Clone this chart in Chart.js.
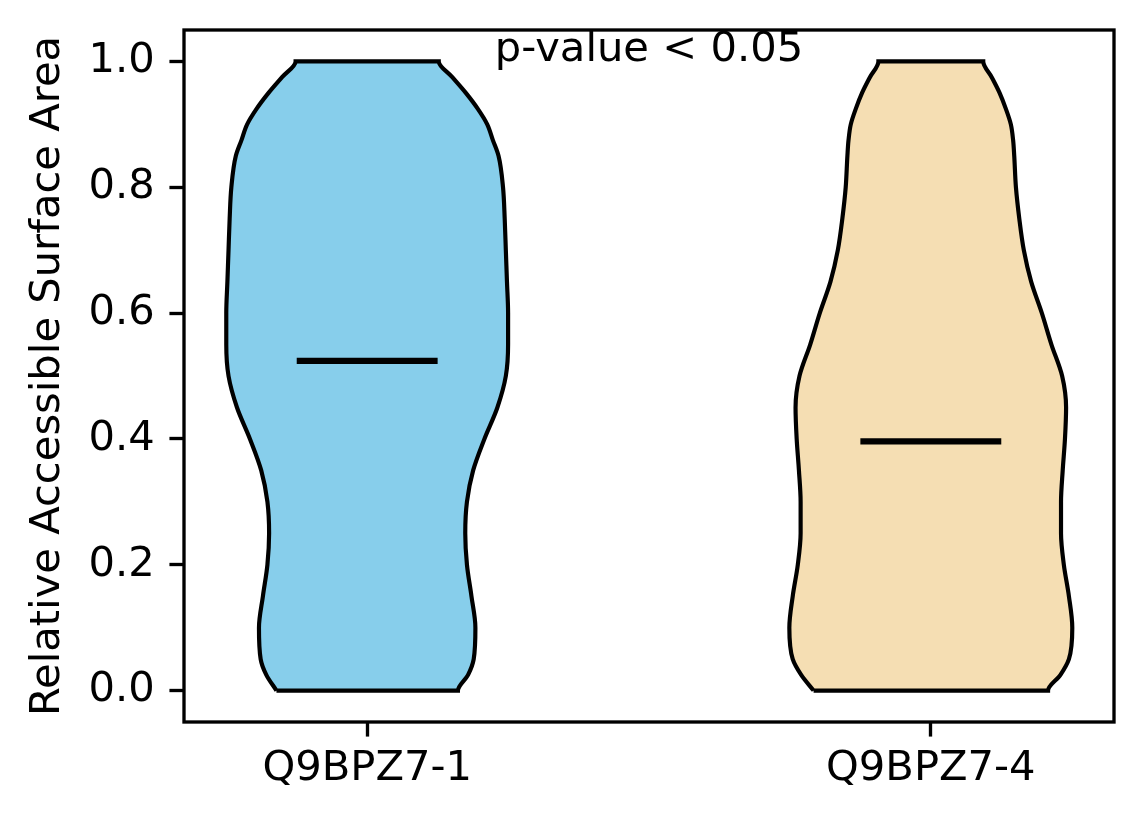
<!DOCTYPE html>
<html>
<head>
<meta charset="utf-8">
<script src="https://cdn.jsdelivr.net/npm/chart.js@4.4.1/dist/chart.umd.min.js"></script>
<style>
  body { margin: 0; background: #fff; }
  #wrap { width: 1144px; height: 824px; }
</style>
</head>
<body>
<div id="wrap"><canvas id="violinChart" width="1144" height="824"></canvas></div>
<script>
// categories and where they sit on the x axis
const categories = ['Q9BPZ7-1', 'Q9BPZ7-4'];
const positions = [1, 2];

// heights at which the violin outlines were read
const levels = [0, 0.025, 0.05, 0.1, 0.15, 0.2, 0.25, 0.3, 0.35, 0.4, 0.45, 0.5,
  0.55, 0.6, 0.65, 0.7, 0.75, 0.8, 0.85, 0.875, 0.9, 0.925, 0.95, 0.975, 1.0];

// half widths of each violin at those heights (x axis units)
const halfWidthQ1 = [0.161, 0.179, 0.189, 0.192, 0.185, 0.177, 0.174, 0.177, 0.188, 0.208, 0.231, 0.246,
  0.250, 0.250, 0.248, 0.246, 0.244, 0.241, 0.233, 0.223, 0.213, 0.196, 0.175, 0.151, 0.127];
const halfWidthQ4 = [0.208, 0.230, 0.245, 0.251, 0.245, 0.236, 0.231, 0.231, 0.234, 0.238, 0.240, 0.233,
  0.214, 0.197, 0.178, 0.165, 0.157, 0.151, 0.148, 0.146, 0.142, 0.133, 0.122, 0.108, 0.093];

const medians = [0.524, 0.396];
const yTicks = [0.0, 0.2, 0.4, 0.6, 0.8, 1.0];

const yLabel = 'Relative Accessible Surface Area';
const noteText = 'p-value < 0.05';
const noteX = 1.5;
const noteY = 1.0;

const fillColors = ['#87ceeb', '#f5deb3'];
const FONT = "'DejaVu Sans', 'Liberation Sans', sans-serif";
const FS = 41.67;

// closed outline: bottom left corner, up the right side, down the left side
const outline = (center, halfWidths) => {
  const pts = [{ x: center - halfWidths[0], y: levels[0] }];
  for (let i = 0; i < levels.length; i++) {
    pts.push({ x: center + halfWidths[i], y: levels[i] });
  }
  for (let i = levels.length - 1; i >= 0; i--) {
    pts.push({ x: center - halfWidths[i], y: levels[i] });
  }
  return pts;
};

const halfWidths = [halfWidthQ1, halfWidthQ4];

const datasets = [];
positions.forEach((pos, i) => {
  datasets.push({
    data: outline(pos, halfWidths[i]),
    backgroundColor: fillColors[i],
    borderColor: '#000',
    borderWidth: 4.17,
    borderJoinStyle: 'miter',
    fill: 'shape',
    cubicInterpolationMode: 'monotone',
    pointRadius: 0,
    order: 1
  });
});
positions.forEach((pos, i) => {
  datasets.push({
    data: [{ x: pos - 0.125, y: medians[i] }, { x: pos + 0.125, y: medians[i] }],
    borderColor: '#000',
    borderWidth: 6.25,
    borderCapStyle: 'butt',
    fill: false,
    tension: 0,
    pointRadius: 0,
    order: 0
  });
});

// frame round the plot and the p-value note
const framePlugin = {
  id: 'frame',
  afterDraw(chart) {
    const { ctx, chartArea: a, scales } = chart;
    ctx.save();
    ctx.strokeStyle = '#000';
    ctx.lineWidth = 3.33;
    ctx.strokeRect(a.left, a.top, a.right - a.left, a.bottom - a.top);
    ctx.fillStyle = '#000';
    ctx.font = FS + 'px ' + FONT;
    ctx.textAlign = 'center';
    ctx.textBaseline = 'alphabetic';
    ctx.fillText(noteText, scales.x.getPixelForValue(noteX), scales.y.getPixelForValue(noteY));
    ctx.restore();
  }
};

const ctx = document.getElementById('violinChart').getContext('2d');
new Chart(ctx, {
  type: 'line',
  data: { datasets: datasets },
  options: {
    responsive: false,
    animation: false,
    indexAxis: 'y',
    layout: { padding: { top: 30, right: 30, left: 0, bottom: 0 } },
    plugins: {
      legend: { display: false },
      tooltip: { enabled: false }
    },
    scales: {
      x: {
        type: 'linear',
        position: 'bottom',
        min: 0.675,
        max: 2.325,
        afterBuildTicks: (axis) => { axis.ticks = positions.map(v => ({ value: v })); },
        afterFit: (axis) => {
          axis.height = 102;
          axis.paddingLeft = 0;
          axis.paddingRight = 0;
        },
        ticks: {
          autoSkip: false,
          maxRotation: 0,
          padding: 8,
          color: '#000',
          font: { family: FONT, size: FS },
          callback: (v, i) => categories[i]
        },
        grid: {
          display: true,
          drawOnChartArea: false,
          drawTicks: true,
          tickLength: 14.58,
          tickWidth: 3.33,
          tickColor: '#000'
        },
        border: { display: false }
      },
      y: {
        type: 'linear',
        position: 'left',
        min: -0.05,
        max: 1.05,
        afterBuildTicks: (axis) => { axis.ticks = yTicks.map(v => ({ value: v })); },
        afterFit: (axis) => {
          axis.width = 184;
          axis.paddingTop = 0;
          axis.paddingBottom = 0;
        },
        ticks: {
          autoSkip: false,
          padding: 14.58,
          color: '#000',
          font: { family: FONT, size: FS },
          callback: (v) => Number(v).toFixed(1)
        },
        grid: {
          display: true,
          drawOnChartArea: false,
          drawTicks: true,
          tickLength: 14.58,
          tickWidth: 3.33,
          tickColor: '#000'
        },
        border: { display: false },
        title: {
          display: true,
          text: yLabel,
          color: '#000',
          font: { family: FONT, size: FS },
          padding: { top: 23, bottom: 0 }
        }
      }
    }
  },
  plugins: [framePlugin]
});
</script>
</body>
</html>
